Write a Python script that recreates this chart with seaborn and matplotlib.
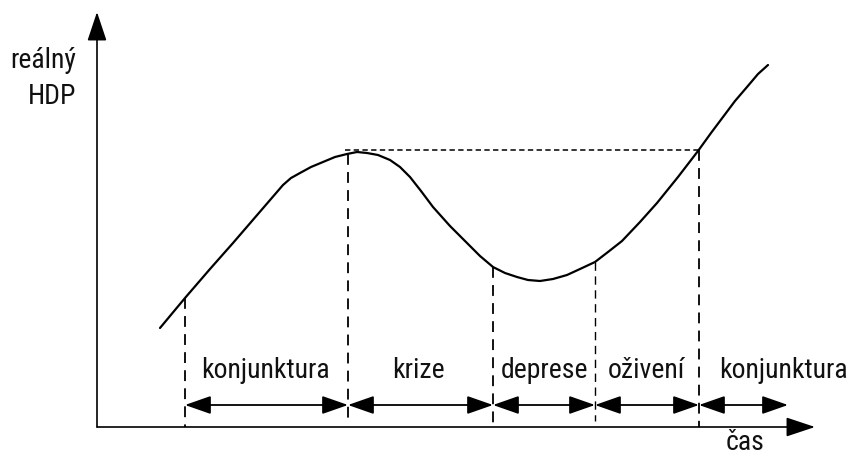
import numpy as np
import pandas as pd
import matplotlib
matplotlib.use("Agg")
import matplotlib.pyplot as plt
import seaborn as sns

cas = [63, 88, 113, 136, 161, 186, 194, 203, 214, 226, 238, 250, 260, 270, 281, 293,
       303, 313, 324, 336, 353, 370, 383, 396, 408, 420, 431, 443, 456, 470, 483,
       498, 511, 525, 543, 560, 581, 601, 614, 626, 638, 650, 661, 671]
hdp = [99, 129, 158, 184, 213, 242, 249, 254, 260, 265, 270, 273, 275, 274, 272, 267,
       260, 250, 236, 220, 201, 184, 171, 160, 154, 150, 147, 146, 148, 152, 158,
       165, 175, 186, 205, 224, 250, 276, 294, 310, 326, 340, 353, 362]

# phase boundaries and labels
hranice = [88, 251, 396, 498, 602, 691]
konce_car = [0, 6, 0, 6, 0]
faze = ["konjunktura", "krize", "deprese", "oživení", "konjunktura"]
stred_popisku = [168, 321, 448, 549, 686]
vrchol = 277

sns.set_style("white")
plt.rcParams['font.family'] = ['Liberation Sans Narrow', 'Roboto Condensed', 'DejaVu Sans']
plt.rcParams['font.stretch'] = 'condensed'
barva = "#111111"

fig = plt.figure(figsize=(8.5, 4.58), dpi=100)
ax = fig.add_axes([0, 0, 1, 1])
ax.set_xlim(-97, 753)
ax.set_ylim(-31, 427)
ax.axis("off")

df = pd.DataFrame({"cas": cas, "hdp": hdp})
sns.lineplot(data=df, x="cas", y="hdp", sort=False, color="black", linewidth=1.6, ax=ax)

# axes with arrows
sipka = dict(arrowstyle="-|>,head_length=0.9,head_width=0.3", color="black",
             lw=1.2, mutation_scale=20, shrinkA=0, shrinkB=0)
ax.annotate("", xy=(0, 415), xytext=(0, 0), arrowprops=sipka)
ax.annotate("", xy=(718, 0), xytext=(0, 0), arrowprops=sipka)

# vertical dashed lines down from the curve
for i, x in enumerate(hranice[:-1]):
    y_top = np.interp(x, cas, hdp)
    ax.plot([x, x], [y_top, konce_car[i]], color="black", lw=1.3 if i != 3 else 1.0,
            dashes=(6, 4))

# horizontal dashed line at peak level
ax.plot([hranice[1] - 3, hranice[4]], [vrchol, vrchol], color="black", lw=1.1, dashes=(3.5, 2.2))

# double arrows for phases
for a, b in zip(hranice[:-1], hranice[1:]):
    ax.annotate("", xy=(b, 22), xytext=(a, 22),
                arrowprops=dict(arrowstyle="<|-|>,head_length=0.8,head_width=0.28", color="black",
                                lw=1.3, mutation_scale=20, shrinkA=0, shrinkB=0))

for x, t in zip(stred_popisku, faze):
    ax.text(x, 57, t, ha="center", va="center", fontsize=20, color=barva)

ax.text(-21, 367, "reálný", ha="right", va="center", fontsize=20, color=barva)
ax.text(-21, 330, "HDP", ha="right", va="center", fontsize=20, color=barva)
ax.text(648, -16, "čas", ha="center", va="center", fontsize=20, color=barva)

fig.savefig("out.png", dpi=100)
